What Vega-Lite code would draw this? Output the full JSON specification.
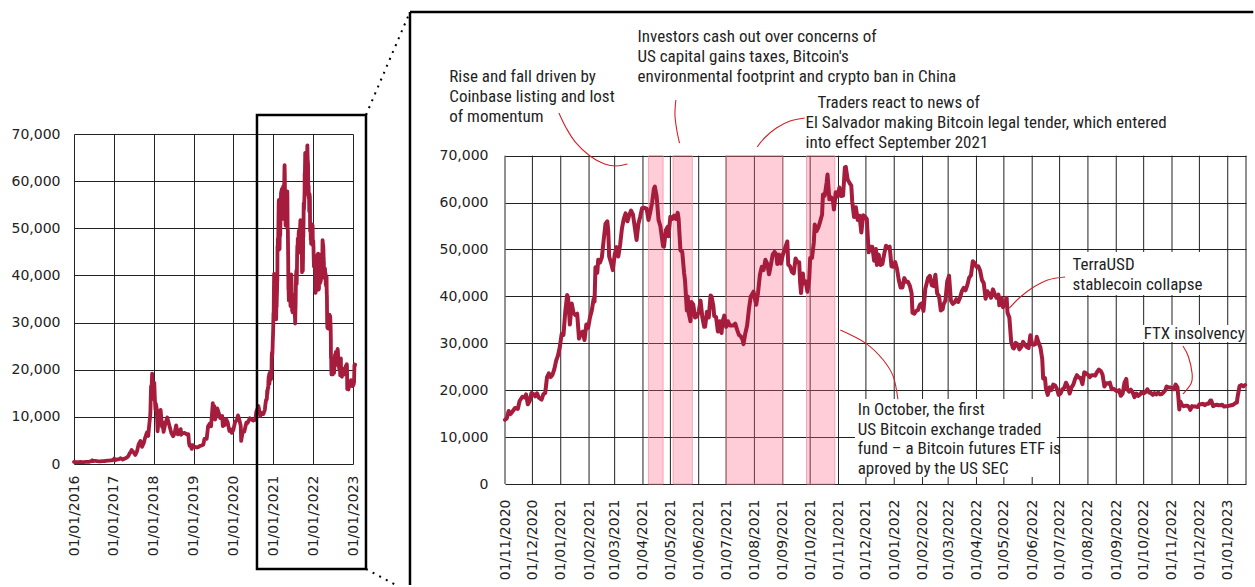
{
  "$schema": "https://vega.github.io/schema/vega-lite/v6.json",
  "autosize": {"type": "pad"},
  "padding": 0,
  "bounds": "flush",
  "spacing": 152,
  "background": "white",
  "config": {
    "view": {"stroke": null},
    "axis": {"labelFont": "DejaVu Sans", "labelFontSize": 14, "labelColor": "#222222", "domain": false, "ticks": false, "gridColor": "#222222", "gridWidth": 1, "labelOverlap": false}
  },
  "datasets": {
    "btc": [
      {"d":"2016-01-01","p":434},{"d":"2016-01-15","p":374},{"d":"2016-02-01","p":373},{"d":"2016-02-15","p":400},{"d":"2016-03-01","p":435},{"d":"2016-03-15","p":415},{"d":"2016-04-01","p":416},{"d":"2016-04-15","p":430},{"d":"2016-05-01","p":451},{"d":"2016-05-15","p":457},{"d":"2016-06-01","p":536},{"d":"2016-06-12","p":670},{"d":"2016-06-16","p":766},{"d":"2016-06-22","p":596},{"d":"2016-07-01","p":677},{"d":"2016-07-15","p":665},{"d":"2016-08-01","p":607},{"d":"2016-08-15","p":568},{"d":"2016-09-01","p":572},{"d":"2016-09-15","p":608},{"d":"2016-10-01","p":613},{"d":"2016-10-15","p":640},{"d":"2016-11-01","p":731},{"d":"2016-11-15","p":713},{"d":"2016-12-01","p":753},{"d":"2016-12-15","p":780},{"d":"2016-12-31","p":964},
      {"d":"2017-01-04","p":1150},{"d":"2017-01-11","p":780},{"d":"2017-01-20","p":890},{"d":"2017-02-01","p":985},{"d":"2017-02-15","p":1008},{"d":"2017-03-01","p":1220},{"d":"2017-03-10","p":1110},{"d":"2017-03-24","p":940},{"d":"2017-04-01","p":1080},{"d":"2017-04-15","p":1180},{"d":"2017-05-01","p":1420},{"d":"2017-05-15","p":1730},{"d":"2017-05-25","p":2300},{"d":"2017-06-01","p":2410},{"d":"2017-06-12","p":2970},{"d":"2017-06-25","p":2550},{"d":"2017-07-01","p":2490},{"d":"2017-07-16","p":1930},{"d":"2017-08-01","p":2720},{"d":"2017-08-15","p":4160},{"d":"2017-09-01","p":4890},{"d":"2017-09-15","p":3630},{"d":"2017-10-01","p":4400},{"d":"2017-10-12","p":5430},{"d":"2017-10-20","p":6000},{"d":"2017-11-01","p":6750},{"d":"2017-11-12","p":5950},{"d":"2017-11-20","p":8200},{"d":"2017-11-28","p":9900},{"d":"2017-12-01","p":10900},{"d":"2017-12-07","p":16500},{"d":"2017-12-10","p":15000},{"d":"2017-12-17","p":19140},{"d":"2017-12-22","p":13800},{"d":"2017-12-27","p":15800},{"d":"2017-12-31","p":14150},
      {"d":"2018-01-06","p":17200},{"d":"2018-01-10","p":14500},{"d":"2018-01-16","p":11500},{"d":"2018-01-20","p":12800},{"d":"2018-01-28","p":11700},{"d":"2018-02-05","p":6950},{"d":"2018-02-10","p":8100},{"d":"2018-02-20","p":11200},{"d":"2018-02-28","p":10400},{"d":"2018-03-05","p":11500},{"d":"2018-03-18","p":7900},{"d":"2018-03-22","p":8900},{"d":"2018-04-01","p":6800},{"d":"2018-04-15","p":8350},{"d":"2018-05-05","p":9850},{"d":"2018-05-20","p":8500},{"d":"2018-06-01","p":7500},{"d":"2018-06-12","p":6500},{"d":"2018-06-28","p":5900},{"d":"2018-07-10","p":6400},{"d":"2018-07-25","p":8200},{"d":"2018-08-10","p":6300},{"d":"2018-08-25","p":6700},{"d":"2018-09-05","p":7400},{"d":"2018-09-08","p":6200},{"d":"2018-09-20","p":6500},{"d":"2018-10-10","p":6600},{"d":"2018-10-31","p":6300},{"d":"2018-11-14","p":6350},{"d":"2018-11-20","p":4500},{"d":"2018-11-25","p":3880},{"d":"2018-12-01","p":4100},{"d":"2018-12-15","p":3200},{"d":"2018-12-24","p":4000},{"d":"2018-12-31","p":3740},
      {"d":"2019-01-15","p":3650},{"d":"2019-02-01","p":3480},{"d":"2019-02-15","p":3620},{"d":"2019-03-01","p":3840},{"d":"2019-03-15","p":3930},{"d":"2019-04-01","p":4140},{"d":"2019-04-10","p":5300},{"d":"2019-05-01","p":5350},{"d":"2019-05-14","p":7990},{"d":"2019-05-30","p":8600},{"d":"2019-06-10","p":8000},{"d":"2019-06-26","p":12900},{"d":"2019-07-01","p":10500},{"d":"2019-07-10","p":12300},{"d":"2019-07-17","p":9400},{"d":"2019-08-06","p":11800},{"d":"2019-08-20","p":10800},{"d":"2019-09-01","p":9750},{"d":"2019-09-20","p":10200},{"d":"2019-09-26","p":8050},{"d":"2019-10-15","p":8300},{"d":"2019-10-26","p":9550},{"d":"2019-11-10","p":8800},{"d":"2019-11-25","p":7000},{"d":"2019-12-10","p":7300},{"d":"2019-12-17","p":6600},{"d":"2019-12-31","p":7200},
      {"d":"2020-01-15","p":8800},{"d":"2020-02-01","p":9400},{"d":"2020-02-12","p":10300},{"d":"2020-02-25","p":9300},{"d":"2020-03-08","p":8100},{"d":"2020-03-12","p":4900},{"d":"2020-03-25","p":6700},{"d":"2020-04-10","p":6900},{"d":"2020-04-29","p":8800},{"d":"2020-05-10","p":8700},{"d":"2020-05-30","p":9700},{"d":"2020-06-15","p":9400},{"d":"2020-07-01","p":9200},{"d":"2020-07-20","p":9400},{"d":"2020-07-28","p":11000},{"d":"2020-08-17","p":12300},{"d":"2020-09-03","p":10200},{"d":"2020-09-15","p":10800},{"d":"2020-10-01","p":10600},{"d":"2020-10-15","p":11500},{"d":"2020-10-21","p":12800},{"d":"2020-10-27","p":13650},
      {"d":"2020-11-01","p":13700},{"d":"2020-11-03","p":14000},{"d":"2020-11-05","p":15550},{"d":"2020-11-07","p":14900},{"d":"2020-11-09","p":15400},{"d":"2020-11-12","p":16200},{"d":"2020-11-15","p":16000},{"d":"2020-11-17","p":17700},{"d":"2020-11-20","p":18600},{"d":"2020-11-23","p":18400},{"d":"2020-11-24","p":19100},{"d":"2020-11-26","p":17000},{"d":"2020-11-28","p":17700},{"d":"2020-11-30","p":19400},
      {"d":"2020-12-02","p":19200},{"d":"2020-12-04","p":18700},{"d":"2020-12-06","p":19350},{"d":"2020-12-08","p":18400},{"d":"2020-12-11","p":18000},{"d":"2020-12-13","p":19150},{"d":"2020-12-15","p":19400},{"d":"2020-12-17","p":22800},{"d":"2020-12-19","p":23600},{"d":"2020-12-21","p":22800},{"d":"2020-12-23","p":23300},{"d":"2020-12-25","p":24500},{"d":"2020-12-27","p":26300},{"d":"2020-12-29","p":27400},{"d":"2020-12-31","p":29200},
      {"d":"2021-01-02","p":32000},{"d":"2021-01-04","p":31800},{"d":"2021-01-06","p":36800},{"d":"2021-01-08","p":40300},{"d":"2021-01-09","p":39800},{"d":"2021-01-11","p":34000},{"d":"2021-01-13","p":38500},{"d":"2021-01-15","p":36500},{"d":"2021-01-17","p":36000},{"d":"2021-01-19","p":36300},{"d":"2021-01-21","p":31000},{"d":"2021-01-23","p":32200},{"d":"2021-01-25","p":32500},{"d":"2021-01-27","p":30700},{"d":"2021-01-29","p":34000},{"d":"2021-01-31","p":33300},
      {"d":"2021-02-02","p":35500},{"d":"2021-02-04","p":37000},{"d":"2021-02-06","p":39500},{"d":"2021-02-07","p":38900},{"d":"2021-02-08","p":46200},{"d":"2021-02-10","p":45000},{"d":"2021-02-11","p":47800},{"d":"2021-02-13","p":47200},{"d":"2021-02-15","p":48300},{"d":"2021-02-17","p":52000},{"d":"2021-02-19","p":55500},{"d":"2021-02-21","p":56000},{"d":"2021-02-22","p":54000},{"d":"2021-02-23","p":48500},{"d":"2021-02-25","p":47200},{"d":"2021-02-27","p":45600},
      {"d":"2021-03-01","p":48800},{"d":"2021-03-03","p":50500},{"d":"2021-03-05","p":48500},{"d":"2021-03-07","p":51000},{"d":"2021-03-09","p":54500},{"d":"2021-03-11","p":56500},{"d":"2021-03-13","p":57700},{"d":"2021-03-15","p":56000},{"d":"2021-03-17","p":57300},{"d":"2021-03-19","p":58300},{"d":"2021-03-21","p":57500},{"d":"2021-03-23","p":54800},{"d":"2021-03-25","p":52000},{"d":"2021-03-27","p":55500},{"d":"2021-03-29","p":57000},{"d":"2021-03-31","p":58800},
      {"d":"2021-04-02","p":58900},{"d":"2021-04-05","p":58700},{"d":"2021-04-07","p":56300},{"d":"2021-04-09","p":58000},{"d":"2021-04-11","p":60000},{"d":"2021-04-13","p":63000},{"d":"2021-04-14","p":63400},{"d":"2021-04-16","p":61300},{"d":"2021-04-18","p":56300},{"d":"2021-04-20","p":55000},{"d":"2021-04-23","p":50700},{"d":"2021-04-24","p":50600},{"d":"2021-04-26","p":54100},{"d":"2021-04-28","p":54800},{"d":"2021-04-29","p":52800},
      {"d":"2021-05-01","p":57000},{"d":"2021-05-03","p":56500},{"d":"2021-05-05","p":57200},{"d":"2021-05-07","p":56500},{"d":"2021-05-09","p":57800},{"d":"2021-05-10","p":56600},{"d":"2021-05-12","p":49800},{"d":"2021-05-14","p":49500},{"d":"2021-05-16","p":45000},{"d":"2021-05-17","p":43500},{"d":"2021-05-19","p":37000},{"d":"2021-05-20","p":40000},{"d":"2021-05-21","p":36500},{"d":"2021-05-23","p":34700},{"d":"2021-05-24","p":38800},{"d":"2021-05-26","p":38300},{"d":"2021-05-28","p":35500},{"d":"2021-05-30","p":35700},
      {"d":"2021-06-01","p":36700},{"d":"2021-06-03","p":39100},{"d":"2021-06-05","p":35500},{"d":"2021-06-07","p":33500},{"d":"2021-06-08","p":33500},{"d":"2021-06-10","p":36700},{"d":"2021-06-12","p":35500},{"d":"2021-06-14","p":40200},{"d":"2021-06-15","p":40000},{"d":"2021-06-17","p":38000},{"d":"2021-06-18","p":35800},{"d":"2021-06-20","p":35600},{"d":"2021-06-22","p":32500},{"d":"2021-06-24","p":34700},{"d":"2021-06-26","p":32200},{"d":"2021-06-27","p":34600},{"d":"2021-06-29","p":35900},
      {"d":"2021-07-01","p":33500},{"d":"2021-07-03","p":34700},{"d":"2021-07-05","p":33800},{"d":"2021-07-07","p":33800},{"d":"2021-07-09","p":33800},{"d":"2021-07-11","p":34200},{"d":"2021-07-13","p":32900},{"d":"2021-07-15","p":31800},{"d":"2021-07-17","p":31500},{"d":"2021-07-19","p":30800},{"d":"2021-07-20","p":29800},{"d":"2021-07-22","p":32100},{"d":"2021-07-24","p":33800},{"d":"2021-07-26","p":37300},{"d":"2021-07-28","p":40000},{"d":"2021-07-29","p":40300},{"d":"2021-07-31","p":41000},
      {"d":"2021-08-01","p":39900},{"d":"2021-08-03","p":38200},{"d":"2021-08-05","p":40900},{"d":"2021-08-07","p":44600},{"d":"2021-08-09","p":46300},{"d":"2021-08-11","p":45600},{"d":"2021-08-13","p":47800},{"d":"2021-08-15","p":47000},{"d":"2021-08-17","p":44700},{"d":"2021-08-19","p":46700},{"d":"2021-08-21","p":48900},{"d":"2021-08-23","p":49500},{"d":"2021-08-25","p":48900},{"d":"2021-08-26","p":46900},{"d":"2021-08-28","p":48900},{"d":"2021-08-30","p":47000},
      {"d":"2021-09-01","p":48800},{"d":"2021-09-03","p":50000},{"d":"2021-09-06","p":51700},{"d":"2021-09-07","p":46800},{"d":"2021-09-09","p":46400},{"d":"2021-09-11","p":45200},{"d":"2021-09-13","p":44900},{"d":"2021-09-15","p":48100},{"d":"2021-09-17","p":47300},{"d":"2021-09-19","p":47300},{"d":"2021-09-20","p":43000},{"d":"2021-09-21","p":40700},{"d":"2021-09-23","p":44900},{"d":"2021-09-24","p":42800},{"d":"2021-09-26","p":43200},{"d":"2021-09-28","p":41000},{"d":"2021-09-30","p":43800},
      {"d":"2021-10-01","p":48200},{"d":"2021-10-03","p":48200},{"d":"2021-10-05","p":51500},{"d":"2021-10-06","p":55300},{"d":"2021-10-08","p":53900},{"d":"2021-10-10","p":54700},{"d":"2021-10-12","p":56000},{"d":"2021-10-14","p":57400},{"d":"2021-10-15","p":61700},{"d":"2021-10-17","p":61500},{"d":"2021-10-19","p":64300},{"d":"2021-10-20","p":66000},{"d":"2021-10-22","p":60700},{"d":"2021-10-24","p":61100},{"d":"2021-10-26","p":60300},{"d":"2021-10-27","p":58500},{"d":"2021-10-29","p":62200},{"d":"2021-10-31","p":61300},
      {"d":"2021-11-02","p":63200},{"d":"2021-11-04","p":61400},{"d":"2021-11-06","p":61500},{"d":"2021-11-08","p":67500},{"d":"2021-11-09","p":67600},{"d":"2021-11-11","p":64900},{"d":"2021-11-13","p":64200},{"d":"2021-11-15","p":63600},{"d":"2021-11-16","p":60300},{"d":"2021-11-18","p":56900},{"d":"2021-11-20","p":59000},{"d":"2021-11-22","p":56300},{"d":"2021-11-24","p":57200},{"d":"2021-11-26","p":53600},{"d":"2021-11-28","p":57300},{"d":"2021-11-30","p":57000},
      {"d":"2021-12-02","p":56500},{"d":"2021-12-04","p":49400},{"d":"2021-12-06","p":50600},{"d":"2021-12-08","p":50600},{"d":"2021-12-10","p":47600},{"d":"2021-12-12","p":50100},{"d":"2021-12-13","p":46700},{"d":"2021-12-15","p":48900},{"d":"2021-12-17","p":46700},{"d":"2021-12-19","p":46900},{"d":"2021-12-21","p":49000},{"d":"2021-12-23","p":50800},{"d":"2021-12-25","p":50400},{"d":"2021-12-27","p":50600},{"d":"2021-12-29","p":46400},{"d":"2021-12-31","p":46300},
      {"d":"2022-01-02","p":47300},{"d":"2022-01-04","p":45900},{"d":"2022-01-06","p":43500},{"d":"2022-01-08","p":41900},{"d":"2022-01-10","p":41900},{"d":"2022-01-12","p":43900},{"d":"2022-01-14","p":43100},{"d":"2022-01-16","p":43100},{"d":"2022-01-18","p":42300},{"d":"2022-01-20","p":40700},{"d":"2022-01-21","p":36500},{"d":"2022-01-23","p":36300},{"d":"2022-01-25","p":36900},{"d":"2022-01-27","p":37100},{"d":"2022-01-29","p":38200},{"d":"2022-01-31","p":38500},
      {"d":"2022-02-02","p":36900},{"d":"2022-02-04","p":41600},{"d":"2022-02-07","p":43900},{"d":"2022-02-09","p":44400},{"d":"2022-02-11","p":42400},{"d":"2022-02-13","p":42200},{"d":"2022-02-15","p":44600},{"d":"2022-02-17","p":40600},{"d":"2022-02-19","p":40100},{"d":"2022-02-21","p":37000},{"d":"2022-02-23","p":37300},{"d":"2022-02-24","p":38300},{"d":"2022-02-26","p":39100},{"d":"2022-02-28","p":43200},
      {"d":"2022-03-02","p":44400},{"d":"2022-03-04","p":39100},{"d":"2022-03-06","p":38400},{"d":"2022-03-08","p":38700},{"d":"2022-03-10","p":39400},{"d":"2022-03-12","p":38800},{"d":"2022-03-14","p":39700},{"d":"2022-03-16","p":41100},{"d":"2022-03-18","p":41800},{"d":"2022-03-20","p":41300},{"d":"2022-03-22","p":42400},{"d":"2022-03-24","p":44000},{"d":"2022-03-26","p":44500},{"d":"2022-03-28","p":47500},{"d":"2022-03-30","p":47100},
      {"d":"2022-04-01","p":46300},{"d":"2022-04-03","p":46400},{"d":"2022-04-05","p":45500},{"d":"2022-04-07","p":43500},{"d":"2022-04-09","p":42800},{"d":"2022-04-11","p":39500},{"d":"2022-04-13","p":41100},{"d":"2022-04-15","p":40500},{"d":"2022-04-17","p":39700},{"d":"2022-04-19","p":41500},{"d":"2022-04-21","p":40500},{"d":"2022-04-23","p":39700},{"d":"2022-04-25","p":40400},{"d":"2022-04-26","p":38100},{"d":"2022-04-28","p":39700},{"d":"2022-04-30","p":37700},
      {"d":"2022-05-02","p":38500},{"d":"2022-05-04","p":39700},{"d":"2022-05-05","p":36500},{"d":"2022-05-07","p":35500},{"d":"2022-05-09","p":30300},{"d":"2022-05-11","p":29000},{"d":"2022-05-12","p":28900},{"d":"2022-05-14","p":30100},{"d":"2022-05-16","p":29800},{"d":"2022-05-18","p":28700},{"d":"2022-05-20","p":29200},{"d":"2022-05-22","p":30300},{"d":"2022-05-24","p":29700},{"d":"2022-05-26","p":29200},{"d":"2022-05-28","p":29000},{"d":"2022-05-30","p":31700},
      {"d":"2022-06-01","p":29800},{"d":"2022-06-03","p":29700},{"d":"2022-06-05","p":29900},{"d":"2022-06-06","p":31400},{"d":"2022-06-08","p":30100},{"d":"2022-06-10","p":29100},{"d":"2022-06-12","p":26600},{"d":"2022-06-13","p":22500},{"d":"2022-06-15","p":22600},{"d":"2022-06-16","p":20400},{"d":"2022-06-18","p":19000},{"d":"2022-06-20","p":20600},{"d":"2022-06-22","p":20000},{"d":"2022-06-24","p":21200},{"d":"2022-06-26","p":21000},{"d":"2022-06-28","p":20300},{"d":"2022-06-30","p":19000},
      {"d":"2022-07-02","p":19300},{"d":"2022-07-04","p":20200},{"d":"2022-07-06","p":20500},{"d":"2022-07-08","p":21600},{"d":"2022-07-10","p":20800},{"d":"2022-07-12","p":19300},{"d":"2022-07-14","p":20600},{"d":"2022-07-16","p":21200},{"d":"2022-07-18","p":22400},{"d":"2022-07-20","p":23200},{"d":"2022-07-22","p":22700},{"d":"2022-07-24","p":22600},{"d":"2022-07-26","p":21300},{"d":"2022-07-28","p":23800},{"d":"2022-07-30","p":23600},
      {"d":"2022-08-01","p":23300},{"d":"2022-08-03","p":22800},{"d":"2022-08-05","p":23200},{"d":"2022-08-07","p":23200},{"d":"2022-08-09","p":23100},{"d":"2022-08-11","p":23900},{"d":"2022-08-13","p":24400},{"d":"2022-08-15","p":24100},{"d":"2022-08-17","p":23300},{"d":"2022-08-19","p":20800},{"d":"2022-08-21","p":21500},{"d":"2022-08-23","p":21400},{"d":"2022-08-25","p":21600},{"d":"2022-08-27","p":20200},{"d":"2022-08-29","p":20300},{"d":"2022-08-31","p":20000},
      {"d":"2022-09-02","p":19800},{"d":"2022-09-04","p":20000},{"d":"2022-09-06","p":18800},{"d":"2022-09-08","p":19300},{"d":"2022-09-10","p":21600},{"d":"2022-09-12","p":22400},{"d":"2022-09-13","p":20200},{"d":"2022-09-15","p":19700},{"d":"2022-09-17","p":20100},{"d":"2022-09-19","p":19500},{"d":"2022-09-21","p":18500},{"d":"2022-09-23","p":19300},{"d":"2022-09-25","p":18800},{"d":"2022-09-27","p":19100},{"d":"2022-09-29","p":19600},
      {"d":"2022-10-01","p":19300},{"d":"2022-10-03","p":19600},{"d":"2022-10-05","p":20200},{"d":"2022-10-07","p":19500},{"d":"2022-10-09","p":19400},{"d":"2022-10-11","p":19000},{"d":"2022-10-13","p":19400},{"d":"2022-10-15","p":19100},{"d":"2022-10-17","p":19500},{"d":"2022-10-19","p":19100},{"d":"2022-10-21","p":19200},{"d":"2022-10-23","p":19600},{"d":"2022-10-25","p":20100},{"d":"2022-10-26","p":20800},{"d":"2022-10-28","p":20600},{"d":"2022-10-30","p":20600},
      {"d":"2022-11-01","p":20500},{"d":"2022-11-03","p":20200},{"d":"2022-11-05","p":21200},{"d":"2022-11-07","p":20600},{"d":"2022-11-08","p":18500},{"d":"2022-11-09","p":15900},{"d":"2022-11-10","p":17600},{"d":"2022-11-12","p":16800},{"d":"2022-11-14","p":16600},{"d":"2022-11-16","p":16700},{"d":"2022-11-18","p":16700},{"d":"2022-11-20","p":16300},{"d":"2022-11-21","p":15800},{"d":"2022-11-23","p":16600},{"d":"2022-11-25","p":16500},{"d":"2022-11-27","p":16500},{"d":"2022-11-29","p":16400},
      {"d":"2022-12-01","p":17000},{"d":"2022-12-03","p":17000},{"d":"2022-12-05","p":17100},{"d":"2022-12-07","p":16800},{"d":"2022-12-09","p":17100},{"d":"2022-12-11","p":17100},{"d":"2022-12-13","p":17800},{"d":"2022-12-14","p":17800},{"d":"2022-12-16","p":16600},{"d":"2022-12-18","p":16800},{"d":"2022-12-20","p":16900},{"d":"2022-12-22","p":16800},{"d":"2022-12-24","p":16800},{"d":"2022-12-26","p":16900},{"d":"2022-12-28","p":16500},{"d":"2022-12-30","p":16600},
      {"d":"2023-01-01","p":16600},{"d":"2023-01-03","p":16700},{"d":"2023-01-05","p":16800},{"d":"2023-01-07","p":16900},{"d":"2023-01-09","p":17200},{"d":"2023-01-11","p":17400},{"d":"2023-01-12","p":18800},{"d":"2023-01-14","p":20900},{"d":"2023-01-16","p":21100},{"d":"2023-01-18","p":20800},{"d":"2023-01-20","p":21100}
    ],
    "grid": [
      {"m":"2020-11-01"},{"m":"2020-12-01"},{"m":"2021-01-01"},{"m":"2021-02-01"},{"m":"2021-03-01"},{"m":"2021-04-01"},{"m":"2021-05-01"},{"m":"2021-06-01"},{"m":"2021-07-01"},{"m":"2021-08-01"},{"m":"2021-09-01"},{"m":"2021-10-01"},{"m":"2021-11-01"},{"m":"2021-12-01"},{"m":"2022-01-01"},{"m":"2022-02-01"},{"m":"2022-03-01"},{"m":"2022-04-01"},{"m":"2022-05-01"},{"m":"2022-06-01"},{"m":"2022-07-01"},{"m":"2022-08-01"},{"m":"2022-09-01"},{"m":"2022-10-01"},{"m":"2022-11-01"},{"m":"2022-12-01"},{"m":"2023-01-01"},{"m":"2023-01-21"}
    ],
    "bands": [
      {"x1":"2021-04-07","x2":"2021-04-23"},{"x1":"2021-05-04","x2":"2021-05-25"},{"x1":"2021-07-01","x2":"2021-09-01"},{"x1":"2021-09-27","x2":"2021-10-28"}
    ],
    "boxes": [
      {"x1":"2021-11-19","x2":"2022-06-28","y1":1490,"y2":18120},
      {"x1":"2022-07-07","x2":"2022-12-06","y1":40290,"y2":49460},
      {"x1":"2022-09-28","x2":"2023-01-17","y1":30270,"y2":33900}
    ],
    "curves": [
      {"c":"A","i":0,"x":"2020-12-30","y":79100},{"c":"A","i":1,"x":"2021-01-07","y":75900},{"c":"A","i":2,"x":"2021-01-17","y":72910},{"c":"A","i":3,"x":"2021-02-02","y":69930},{"c":"A","i":4,"x":"2021-02-18","y":68220},{"c":"A","i":5,"x":"2021-03-03","y":67800},{"c":"A","i":6,"x":"2021-03-15","y":68220},
      {"c":"B","i":0,"x":"2021-05-07","y":81870},{"c":"B","i":1,"x":"2021-05-06","y":78670},{"c":"B","i":2,"x":"2021-05-08","y":75470},{"c":"B","i":3,"x":"2021-05-11","y":72700},
      {"c":"C","i":0,"x":"2021-08-04","y":71850},{"c":"C","i":1,"x":"2021-08-12","y":73770},{"c":"C","i":2,"x":"2021-08-25","y":75900},{"c":"C","i":3,"x":"2021-09-09","y":77390},{"c":"C","i":4,"x":"2021-09-25","y":78030},
      {"c":"D","i":0,"x":"2022-05-07","y":37520},{"c":"D","i":1,"x":"2022-05-19","y":39870},{"c":"D","i":2,"x":"2022-06-01","y":41790},{"c":"D","i":3,"x":"2022-06-18","y":43490},{"c":"D","i":4,"x":"2022-07-07","y":44130},
      {"c":"E","i":0,"x":"2022-11-13","y":29420},{"c":"E","i":1,"x":"2022-11-19","y":27140},{"c":"E","i":2,"x":"2022-11-23","y":23600},{"c":"E","i":3,"x":"2022-11-22","y":21470},{"c":"E","i":4,"x":"2022-11-13","y":19190},
      {"c":"F","i":0,"x":"2021-11-03","y":32830},{"c":"F","i":1,"x":"2021-12-01","y":29990},{"c":"F","i":2,"x":"2021-12-20","y":26440},{"c":"F","i":3,"x":"2021-12-31","y":22880},{"c":"F","i":4,"x":"2022-01-05","y":18060}
    ],
    "notes": [
      {"x":"2020-09-01","y":86770,"t":"Rise and fall driven by"},
      {"x":"2020-09-01","y":82510,"t":"Coinbase listing and lost"},
      {"x":"2020-09-01","y":78240,"t":"of momentum"},
      {"x":"2021-03-26","y":95300,"t":"Investors cash out over concerns of"},
      {"x":"2021-03-26","y":91040,"t":"US capital gains taxes, Bitcoin's"},
      {"x":"2021-03-26","y":86770,"t":"environmental footprint and crypto ban in China"},
      {"x":"2021-10-09","y":81230,"t":"Traders react to news of"},
      {"x":"2021-09-26","y":76970,"t":"El Salvador making Bitcoin legal tender, which entered"},
      {"x":"2021-09-26","y":72700,"t":"into effect September 2021"},
      {"x":"2022-07-15","y":46690,"t":"TerraUSD"},
      {"x":"2022-07-15","y":42430,"t":"stablecoin collapse"},
      {"x":"2022-10-01","y":31980,"t":"FTX insolvency"},
      {"x":"2021-11-22","y":15780,"t":"In October,  the first"},
      {"x":"2021-11-22","y":11510,"t":"US Bitcoin exchange traded"},
      {"x":"2021-11-22","y":7460,"t":"fund – a Bitcoin futures ETF is"},
      {"x":"2021-11-22","y":3200,"t":"aproved by the US SEC"}
    ],
    "frame": [
      {"x1":"2020-07-20","x2":"2020-07-20","y1":-21530,"y2":100630},
      {"x1":"2020-07-20","x2":"2023-01-29","y1":100630,"y2":100630}
    ],
    "zoombox": [
      {"x1":"2020-08-04","x2":"2023-04-30","y1":-22270,"y2":74030}
    ],
    "connectors": [
      {"x1":"2023-04-30","y1":74030,"x2":"2024-06-06","y2":95880},
      {"x1":"2023-04-30","y1":-22270,"x2":"2024-01-30","y2":-25670}
    ],
    "anchor": [
      {"x1":"2014-02-22","y1":98424,"x2":"2045-08-12","y2":-25879}
    ]
  },
  "hconcat": [
    {
      "width": 279,
      "height": 330,
      "layer": [
        {
          "data": {"name": "btc"},
          "mark": {"type": "line", "color": "#a51c3c", "strokeWidth": 3.8, "strokeJoin": "round", "strokeCap": "round"},
          "encoding": {
            "x": {"field": "d", "type": "temporal", "title": null,
              "scale": {"type": "utc", "domain": [{"year": 2016, "month": 1, "date": 1, "utc": true}, {"year": 2023, "month": 1, "date": 1, "utc": true}]},
              "axis": {"tickCount": {"interval": "year", "step": 1}, "format": "%d/%m/%Y", "labelAngle": -90, "labelPadding": 11, "grid": true}},
            "y": {"field": "p", "type": "quantitative", "title": null,
              "scale": {"domain": [0, 70000], "nice": false},
              "axis": {"values": [0, 10000, 20000, 30000, 40000, 50000, 60000, 70000], "format": ",.0f", "labelPadding": 14, "grid": true}}
          }
        },
        {
          "data": {"name": "anchor"},
          "mark": {"type": "rule", "color": "#ffffff", "strokeOpacity": 0, "strokeWidth": 1},
          "encoding": {
            "x": {"field": "x1", "type": "temporal", "scale": {"type": "utc"}, "title": null},
            "x2": {"field": "x2"},
            "y": {"field": "y1", "type": "quantitative", "title": null},
            "y2": {"field": "y2"}
          }
        },
        {
          "data": {"name": "zoombox"},
          "mark": {"type": "rect", "fillOpacity": 0, "stroke": "#000000", "strokeWidth": 2.5},
          "encoding": {
            "x": {"field": "x1", "type": "temporal", "scale": {"type": "utc"}, "title": null},
            "x2": {"field": "x2"},
            "y": {"field": "y1", "type": "quantitative", "title": null},
            "y2": {"field": "y2"}
          }
        },
        {
          "data": {"name": "connectors"},
          "mark": {"type": "rule", "color": "#000000", "strokeWidth": 2, "strokeDash": [2, 5.5]},
          "encoding": {
            "x": {"field": "x1", "type": "temporal", "scale": {"type": "utc"}, "title": null},
            "x2": {"field": "x2"},
            "y": {"field": "y1", "type": "quantitative", "title": null},
            "y2": {"field": "y2"}
          }
        }
      ]
    },
    {
      "width": 741,
      "height": 350,
      "layer": [
        {
          "data": {"name": "grid"},
          "mark": {"type": "rule", "color": "#222222", "strokeWidth": 1},
          "encoding": {
            "x": {"field": "m", "type": "temporal", "scale": {"type": "utc"}, "title": null},
            "y": {"datum": 0, "type": "quantitative", "title": null},
            "y2": {"datum": 70000}
          }
        },
        {
          "data": {"name": "bands"},
          "mark": {"type": "rect", "fill": "#ff6685", "fillOpacity": 0.33, "stroke": "#f08aa0", "strokeOpacity": 0.7, "strokeWidth": 1},
          "encoding": {
            "x": {"field": "x1", "type": "temporal", "scale": {"type": "utc"}, "title": null},
            "x2": {"field": "x2"},
            "y": {"datum": 0, "type": "quantitative", "title": null},
            "y2": {"datum": 70000}
          }
        },
        {
          "data": {"name": "boxes"},
          "mark": {"type": "rect", "fill": "#ffffff"},
          "encoding": {
            "x": {"field": "x1", "type": "temporal", "scale": {"type": "utc"}, "title": null},
            "x2": {"field": "x2"},
            "y": {"field": "y1", "type": "quantitative", "title": null},
            "y2": {"field": "y2"}
          }
        },
        {
          "data": {"name": "curves"},
          "mark": {"type": "line", "color": "#d42027", "strokeWidth": 1.1, "interpolate": "cardinal"},
          "encoding": {
            "x": {"field": "x", "type": "temporal", "scale": {"type": "utc"}, "title": null},
            "y": {"field": "y", "type": "quantitative", "title": null},
            "detail": {"field": "c"},
            "order": {"field": "i"}
          }
        },
        {
          "data": {"name": "frame"},
          "mark": {"type": "rule", "color": "#000000", "strokeWidth": 2.5},
          "encoding": {
            "x": {"field": "x1", "type": "temporal", "scale": {"type": "utc"}, "title": null},
            "x2": {"field": "x2"},
            "y": {"field": "y1", "type": "quantitative", "title": null},
            "y2": {"field": "y2"}
          }
        },
        {
          "data": {"name": "notes"},
          "mark": {"type": "text", "align": "left", "baseline": "middle", "font": "Liberation Sans Narrow, Roboto Condensed, sans-serif", "fontSize": 17, "color": "#1f1f1f"},
          "encoding": {
            "x": {"field": "x", "type": "temporal", "scale": {"type": "utc"}, "title": null},
            "y": {"field": "y", "type": "quantitative", "title": null},
            "text": {"field": "t"}
          }
        },
        {
          "data": {"name": "btc"},
          "transform": [{"filter": "datum.d >= utc(2020, 10, 1)"}],
          "mark": {"type": "line", "color": "#a51c3c", "strokeWidth": 4, "strokeJoin": "round", "strokeCap": "round"},
          "encoding": {
            "x": {"field": "d", "type": "temporal", "title": null,
              "scale": {"type": "utc", "domain": [{"year": 2020, "month": 11, "date": 1, "utc": true}, {"year": 2023, "month": 1, "date": 21, "utc": true}]},
              "axis": {"tickCount": {"interval": "month", "step": 1}, "format": "%d/%m/%Y", "labelAngle": -90, "labelPadding": 15, "grid": false}},
            "y": {"field": "p", "type": "quantitative", "title": null,
              "scale": {"domain": [0, 74620], "nice": false, "zero": false},
              "axis": {"values": [0, 10000, 20000, 30000, 40000, 50000, 60000, 70000], "format": ",.0f", "labelPadding": 17, "grid": true, "gridColor": "#222222"}}
          }
        }
      ]
    }
  ]
}
